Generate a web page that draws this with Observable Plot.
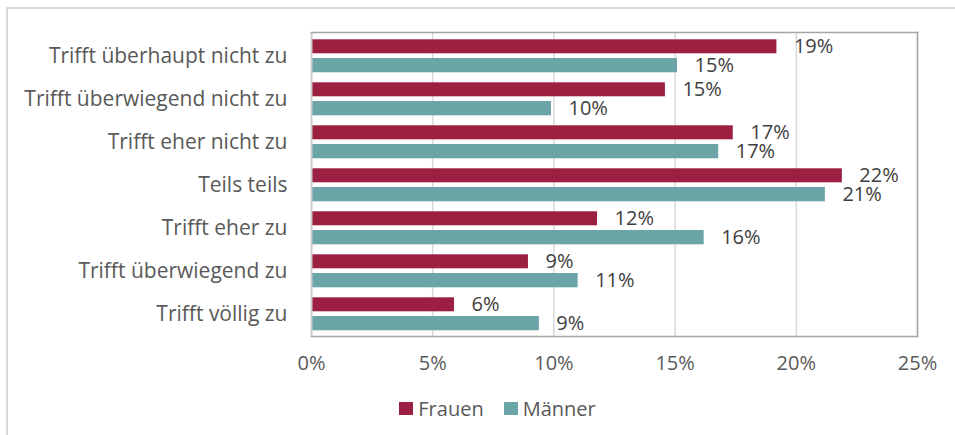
<!DOCTYPE html>
<html>
<head>
<meta charset="utf-8">
<script src="https://cdn.jsdelivr.net/npm/d3@7"></script>
<script src="https://cdn.jsdelivr.net/npm/@observablehq/plot@0.6"></script>
<style>
  html, body { margin: 0; padding: 0; background: #fff; }
  #wrap { position: relative; width: 955px; height: 435px; overflow: hidden; font-family: "Open Sans", sans-serif; }
  #border { position: absolute; left: 6px; top: 7px; width: 960px; height: 440px; border: 2px solid #d9d9d9; box-sizing: border-box; }
  #chart { position: absolute; left: 0; top: 0; }
  #legend { position: absolute; left: 20px; top: 394px; width: 955px; text-align: center; font-size: 20px; line-height: 28px; color: #595959; }
  #legend span.item { display: inline-flex; align-items: center; margin: 0 10px; }
  #legend span.sw { display: inline-block; width: 14px; height: 13px; margin-right: 5px; }
</style>
</head>
<body>
<div id="wrap">
  <div id="border"></div>
  <div id="chart"></div>
  <div id="legend"></div>
</div>
<script>
const categories = [
  "Trifft überhaupt nicht zu",
  "Trifft überwiegend nicht zu",
  "Trifft eher nicht zu",
  "Teils teils",
  "Trifft eher zu",
  "Trifft überwiegend zu",
  "Trifft völlig zu"
];
const series = ["Frauen", "Männer"];
const frauen = [19.2, 14.6, 17.4, 21.9, 11.8, 8.95, 5.9];
const maenner = [15.1, 9.9, 16.8, 21.2, 16.2, 11.0, 9.4];
const frauenLabels = ["19%", "15%", "17%", "22%", "12%", "9%", "6%"];
const maennerLabels = ["15%", "10%", "17%", "21%", "16%", "11%", "9%"];
const xTicks = [0, 5, 10, 15, 20, 25];
const colors = ["#9b2042", "#6ba5a7"];

const dataF = categories.map((c, i) => ({cat: c, value: frauen[i], label: frauenLabels[i]}));
const dataM = categories.map((c, i) => ({cat: c, value: maenner[i], label: maennerLabels[i]}));

const chart = Plot.plot({
  width: 955,
  height: 380,
  marginTop: 32,
  marginBottom: 44,
  marginLeft: 311,
  marginRight: 38,
  style: {fontFamily: "Open Sans, sans-serif", background: "transparent", overflow: "visible"},
  x: {domain: [0, 25], ticks: xTicks},
  y: {domain: categories, padding: 0},
  marks: [
    Plot.gridX(xTicks, {stroke: "#d9d9d9", strokeOpacity: 1, strokeWidth: 1.5}),
    Plot.barX(dataF, {x: "value", y: "cat", fill: colors[0], insetTop: 5.3, insetBottom: 23.7}),
    Plot.barX(dataM, {x: "value", y: "cat", fill: colors[1], insetTop: 24, insetBottom: 4.7}),
    Plot.text(dataF, {x: "value", y: "cat", text: "label", dy: -9.3, dx: 17, textAnchor: "start", fontSize: 20, fill: "#404040"}),
    Plot.text(dataM, {x: "value", y: "cat", text: "label", dy: 9.7, dx: 17, textAnchor: "start", fontSize: 20, fill: "#404040"}),
    Plot.ruleX([0], {stroke: "#d0d0d0", strokeWidth: 2}),
    Plot.frame({anchor: "top", stroke: "#a6a6a6", strokeWidth: 1.5}),
    Plot.frame({anchor: "right", stroke: "#a6a6a6", strokeWidth: 1.5}),
    Plot.frame({anchor: "bottom", stroke: "#a6a6a6", strokeWidth: 1.5}),
    Plot.axisX(xTicks, {tickSize: 0, tickPadding: 19, tickFormat: d => d + "%", fontSize: 20, fill: "#595959", label: null}),
    Plot.axisY({tickSize: 0, tickPadding: 24, fontSize: 21, fill: "#595959", label: null})
  ]
});
document.getElementById("chart").appendChild(chart);

const legend = document.getElementById("legend");
series.forEach((s, i) => {
  const item = document.createElement("span");
  item.className = "item";
  const sw = document.createElement("span");
  sw.className = "sw";
  sw.style.background = colors[i];
  item.appendChild(sw);
  item.appendChild(document.createTextNode(s));
  legend.appendChild(item);
});
</script>
</body>
</html>
